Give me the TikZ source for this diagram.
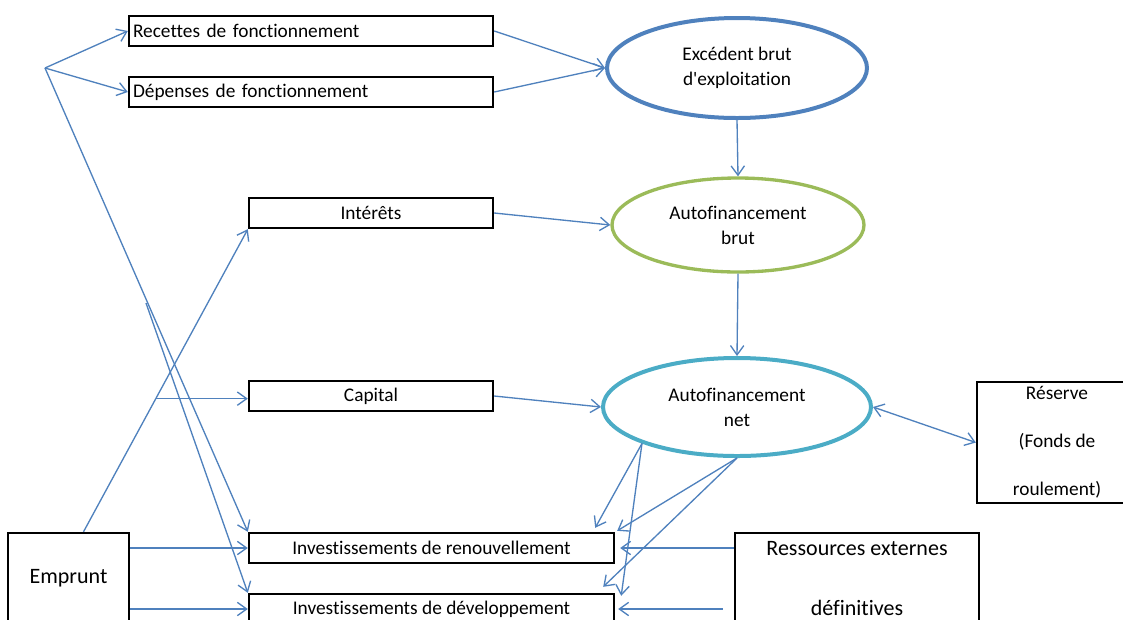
\documentclass[tikz,border=0pt]{standalone}
\usepackage{fontspec}
\setmainfont{Carlito}[Ligatures=CommonOff]
\usetikzlibrary{shapes.geometric,arrows.meta,calc}

\definecolor{linkblue}{HTML}{4F81BD}
\definecolor{ebeblue}{HTML}{4F81BD}
\definecolor{abgreen}{HTML}{9BBB59}
\definecolor{ancyan}{HTML}{4BACC6}

\tikzset{
  >={Straight Barb[length=7pt,width=10pt]},
  box/.style={draw, line width=1.8pt, minimum height=22.5pt, inner xsep=3pt,
    inner ysep=2pt, font=\fontsize{14.5}{18}\selectfont},
  flow/.style={ellipse, line width=3pt, inner sep=0pt, align=center,
    font=\fontsize{14.5}{18.75}\selectfont},
  link/.style={draw=linkblue, line width=1pt, ->},
}

\begin{document}
\begin{tikzpicture}[x=0.75pt, y=-0.75pt]
  \useasboundingbox (0,0) rectangle (1123,619);

  % Boxes on the left
  \node[box, text width=267pt, align=left] (rec) at (311,31) {Recettes de fonctionnement};
  \node[box, text width=267pt, align=left] (dep) at (311,92) {Dépenses de fonctionnement};
  \node[box, minimum width=183pt] (int) at (371,213) {Intérêts};
  \node[box, minimum width=183pt] (cap) at (371,396) {Capital};
  \node[box, minimum width=273.75pt] (inv1) at (431.5,548) {Investissements de renouvellement};
  \node[box, minimum width=273.75pt] (inv2) at (431.5,609) {Investissements de développement};
  \node[box, minimum width=90.75pt, minimum height=67.5pt,
        font=\fontsize{16.5}{20}\selectfont] (emp) at (68.5,578) {Emprunt};

  % Boxes on the right
  \node[box, minimum width=183pt, minimum height=69pt, align=center,
        font=\fontsize{16.5}{45}\selectfont] (res) at (857,579) {Ressources externes\\définitives};
  \node[box, minimum width=120pt, minimum height=90.75pt, align=center,
        font=\fontsize{14.5}{36}\selectfont] (rsv) at (1057,442.5) {Réserve\\(Fonds de\\roulement)};

  % Ellipses
  \node[flow, draw=ebeblue, minimum width=195pt, minimum height=75pt] (ebe) at (737,68)
        {Excédent brut\\d\textquotesingle exploitation};
  \node[flow, draw=abgreen, line width=2.5pt, minimum width=189pt, minimum height=70.5pt] (ab)
        at (738,225) {Autofinancement\\brut};
  \node[flow, draw=ancyan, minimum width=201pt, minimum height=73.5pt] (an) at (737,407)
        {Autofinancement\\net};

  % Free ends of the connectors
  \coordinate (br) at (45,68);
  \coordinate (kn) at (146,303);
  \coordinate (es) at ($(emp.north)+(15,0)$);
  \coordinate (cs) at ($(es)!0.44!(int.south west)$);

  % Left side
  \draw[link] (br) -- (rec.west);
  \draw[link] (br) -- (dep.west);
  \draw[link] (br) -- (inv1.north west);
  \draw[link] (kn) -- (inv2.north west);
  \draw[link] (es) -- (int.south west);
  \draw[link] (cs) -- (cs -| cap.west);
  \draw[link] (emp.east |- inv1.west) -- (inv1.west);
  \draw[link] (emp.east |- inv2.west) -- (inv2.west);

  % Into the ellipses
  \draw[link] (rec.east) -- (ebe.west);
  \draw[link] (dep.east) -- (ebe.west);
  \draw[link] (ebe.south) -- (ab.north);
  \draw[link] (int.east) -- (ab.west);
  \draw[link] (ab.south) -- (an.north);
  \draw[link] (cap.east) -- (an.west);
  \draw[link, <->] (an.east) -- (rsv.west);

  % Autofinancement net and external resources to investments
  \draw[link] (an.201) -- ($(inv1.north east)+(-20,-4)$);
  \draw[link] (an.201) -- ($(inv2.north east)+(6,3)$);
  \draw[link] (an.south) -- ($(inv1.north east)+(2,-1)$);
  \draw[link] (an.south) -- ($(inv2.north east)+(-12,-6)$);
  \draw[link] (res.west |- inv1.east) -- ($(inv1.east)+(5,0)$);
  \draw[link] ($(res.west |- inv2.east)+(-11,0)$) -- ($(inv2.east)+(3,0)$);
\end{tikzpicture}
\end{document}
